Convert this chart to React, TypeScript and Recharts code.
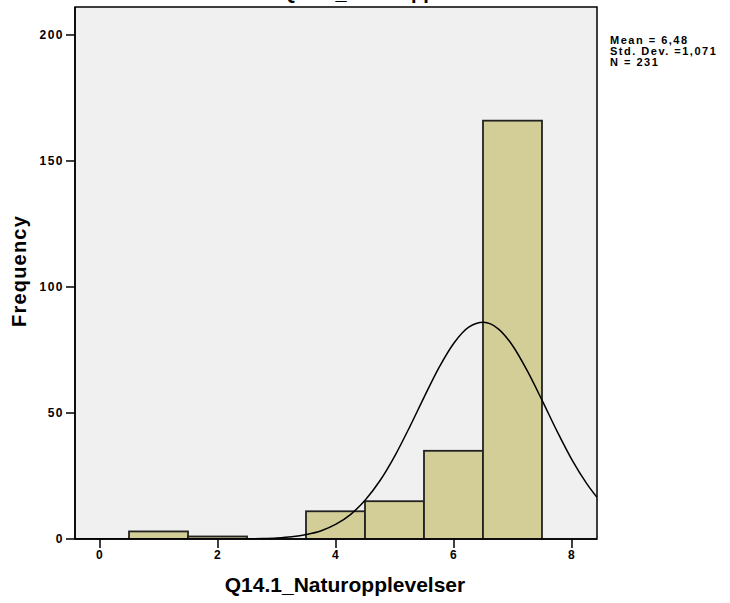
import { Bar, CartesianGrid, ComposedChart, Customized, Line, ReferenceArea, XAxis, YAxis } from 'recharts'

document.body.style.margin = '0'

// histogram bins (value = bin centre, width 1)
const binCenters = [1, 2, 3, 4, 5, 6, 7]
const binCounts = [3, 1, 0, 11, 15, 35, 166]

// normal curve
const curveX = [-0.424, 1, 1.5, 2, 2.25, 2.5, 2.75, 3, 3.25, 3.5, 3.75, 4, 4.25, 4.5, 4.75, 5, 5.25, 5.5, 5.75, 6, 6.25, 6.5, 6.75, 7, 7.25, 7.5, 7.75, 8, 8.25, 8.424]
const curveY = [0, 0, 0, 0.01, 0.04, 0.09, 0.2, 0.44, 0.91, 1.8, 3.3, 5.9, 9.8, 15.6, 23.3, 33.1, 44.5, 56.6, 68.2, 77.8, 84.1, 86.0, 83.4, 76.5, 66.4, 54.7, 42.6, 31.4, 22.0, 16.5]

const xTicks = [0, 2, 4, 6, 8]
const yTicks = [0, 50, 100, 150, 200]
const statLines = ['Mean = 6,48', 'Std. Dev. =1,071', 'N = 231']

const X_MIN = -0.424
const X_MAX = 8.424
const Y_MAX = 211.1
const W = 730
const H = 603
const PLOT_W = 522
const FONT = "'Liberation Sans', Arial, sans-serif"

const barData = binCenters.map((bin, i) => ({ bin, count: binCounts[i] }))
const curveData = curveX.map((x, i) => ({ x, y: curveY[i] }))
// one bin is one unit wide
const unitPx = PLOT_W / (X_MAX - X_MIN)

const tickStyle = { fill: '#000', fontSize: 12, fontWeight: 'bold', fontFamily: FONT, letterSpacing: 1.5 }

// widen each bar around the centre the library gives so bins touch
const BinShape = (props: any) => {
  const { x, y, width, height } = props
  if (!height || height <= 0) return null
  const cx = x + width / 2
  return (
    <rect
      x={cx - unitPx / 2}
      y={y}
      width={unitPx}
      height={height}
      fill="#d3ce97"
      stroke="#222"
      strokeWidth={1.8}
    />
  )
}

const Texts = () => (
  <g fontFamily={FONT} fontWeight="bold" fill="#000">
    <text x={281} y={-1} fontSize={20}>Q14.1_Naturopplevelser</text>
    <text x={345} y={592} fontSize={21} textAnchor="middle">Q14.1_Naturopplevelser</text>
    <text x={26} y={271} fontSize={20} letterSpacing={1.2} textAnchor="middle" transform="rotate(-90 26 271)">Frequency</text>
    {statLines.map((s, i) => (
      <text key={i} x={610} y={44 + i * 11} fontSize={11} letterSpacing={1.5}>{s}</text>
    ))}
  </g>
)

export default function App() {
  return (
    <ComposedChart
      width={W}
      height={H}
      data={barData}
      margin={{ top: 7, right: 133, bottom: 0, left: 0 }}
      barGap={0}
      barCategoryGap={0}
    >
      <CartesianGrid fill="#f0f0f0" fillOpacity={1} horizontal={false} vertical={false} />
      <XAxis
        type="number"
        dataKey="bin"
        domain={[X_MIN, X_MAX]}
        ticks={xTicks}
        allowDataOverflow
        height={64}
        tickSize={9}
        tick={tickStyle}
        tickLine={{ stroke: '#000', strokeWidth: 1.5 }}
        axisLine={{ stroke: '#000', strokeWidth: 1.5 }}
      />
      <XAxis xAxisId="curve" type="number" dataKey="x" domain={[X_MIN, X_MAX]} allowDataOverflow hide />
      <YAxis
        type="number"
        domain={[0, Y_MAX]}
        ticks={yTicks}
        allowDataOverflow
        width={75}
        tickSize={9}
        tick={tickStyle}
        tickLine={{ stroke: '#000', strokeWidth: 1.5 }}
        axisLine={{ stroke: '#000', strokeWidth: 1.5 }}
      />
      <Bar
        dataKey="count"
        barSize={Math.floor(unitPx) - 2}
        fill="#d3ce97"
        stroke="#222"
        shape={BinShape}
        isAnimationActive={false}
      />
      <Line
        data={curveData}
        xAxisId="curve"
        dataKey="y"
        type="monotone"
        dot={false}
        stroke="#000"
        strokeWidth={1.5}
        isAnimationActive={false}
      />
      <ReferenceArea x1={X_MIN} x2={X_MAX} y1={0} y2={Y_MAX} fill="none" stroke="#000" strokeWidth={1.5} ifOverflow="visible" />
      <Customized component={Texts} />
    </ComposedChart>
  )
}
